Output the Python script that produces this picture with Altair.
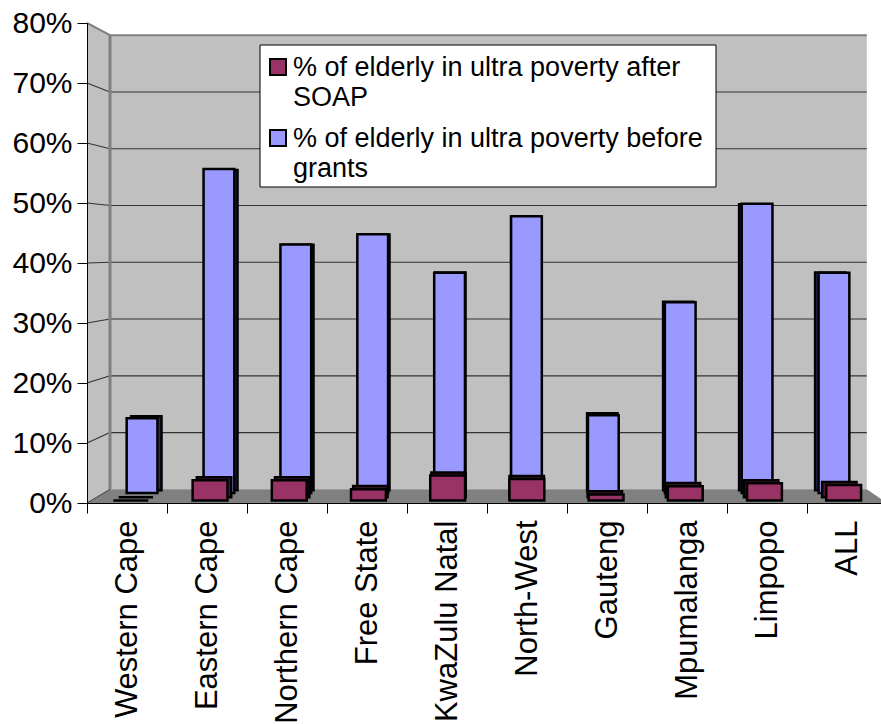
import json

import altair as alt
import pandas as pd

# ---- data -----------------------------------------------------------------
regions = ["Western Cape", "Eastern Cape", "Northern Cape", "Free State",
           "KwaZulu Natal", "North-West", "Gauteng", "Mpumalanga",
           "Limpopo", "ALL"]
before_grants = [0.130, 0.562, 0.431, 0.449, 0.382, 0.480, 0.135, 0.331, 0.502, 0.382]
after_soap = [0.000, 0.034, 0.034, 0.019, 0.042, 0.036, 0.010, 0.024, 0.029, 0.026]
series_names = ["% of elderly in ultra poverty after SOAP",
                "% of elderly in ultra poverty before grants"]
y_tick_values = [0.0, 0.1, 0.2, 0.3, 0.4, 0.5, 0.6, 0.7, 0.8]

# ---- style ----------------------------------------------------------------
FONT = "Liberation Sans"
RED, BLUE = "#993366", "#9999FF"
RED_SIDE, BLUE_SIDE = "#4d1a33", "#2b2b66"
WALL, FLOOR, EDGE = "#C0C0C0", "#808080", "#808080"

# ---- 3-D perspective (data units: x = category slots, y = share) ----------
VX, VY = 5.325, 0.4228          # vanishing point
WALL_S = 0.946                  # depth scale of the back wall
BLUE_S = (0.961, 0.950)         # front / back face of the rear series
RED_S = (0.990, 0.977)          # front / back face of the front series
BLUE_HW, RED_HW = 0.20, 0.22    # half bar widths


def px(x, s):
    return VX + (x - VX) * s


def py(v, s):
    return VY + (v - VY) * s


X_SCALE = alt.Scale(domain=[0, 10], range=[0, 800], nice=False, zero=False)
Y_SCALE = alt.Scale(domain=[0, 0.8], nice=False, zero=False)

bars = pd.DataFrame({"idx": list(range(len(regions))), "region": regions,
                     "before": before_grants, "after": after_soap})

label_expr = (f"datum.value < {len(regions)} ? "
              f"{json.dumps(regions)}[datum.value] : ''")

x_axis = alt.Axis(orient="bottom", values=list(range(len(regions) + 1)),
                  labelExpr=label_expr, title=None, grid=False,
                  labelAngle=270, labelAlign="right", labelBaseline="middle",
                  labelOffset=40, labelPadding=7, labelFlush=False,
                  labelOverlap=False, labelLimit=0, labelFont=FONT,
                  labelFontSize=31, labelColor="black", tickSize=10,
                  tickColor="black", domainColor="black", zindex=1)
y_axis = alt.Axis(orient="left", values=y_tick_values, format=".0%",
                  title=None, grid=False, labelFont=FONT, labelFontSize=30,
                  labelColor="black", labelPadding=5, tickSize=10,
                  tickColor="black", domainColor="black", zindex=1)


def enc_xy(x, y, x2=None, y2=None):
    e = dict(x=alt.X(x, scale=X_SCALE, axis=x_axis),
             y=alt.Y(y, scale=Y_SCALE, axis=y_axis))
    if x2:
        e["x2"] = x2
    if y2:
        e["y2"] = y2
    return e


# ---- walls and floor -------------------------------------------------------
xb0, xb1 = px(0, WALL_S), px(10, WALL_S)
yb0, yb8 = py(0, WALL_S), py(0.8, WALL_S)

side_wall = alt.Chart(pd.DataFrame({"x": [0, xb0], "lo": [0, yb0], "hi": [0.8, yb8]})) \
    .mark_area(orient="vertical", color=WALL) \
    .encode(**enc_xy("x:Q", "lo:Q", y2="hi:Q"))

back_wall = alt.Chart(pd.DataFrame({"x": [xb0], "x2": [xb1], "y": [yb0], "y2": [yb8]})) \
    .mark_rect(color=WALL) \
    .encode(**enc_xy("x:Q", "y:Q", "x2:Q", "y2:Q"))

floor = alt.Chart(pd.DataFrame({"y": [0, yb0], "x": [0, xb0], "x2": [10, xb1]})) \
    .mark_area(orient="horizontal", color=FLOOR) \
    .encode(**enc_xy("x:Q", "y:Q", x2="x2:Q"))

grid_vals = y_tick_values[1:-1]
back_grid = alt.Chart(pd.DataFrame({"x": xb0, "x2": xb1, "y": [py(v, WALL_S) for v in grid_vals]})) \
    .mark_rule(color="#333333", strokeWidth=1.2) \
    .encode(**enc_xy("x:Q", "y:Q", "x2:Q", "y:Q"))
side_grid = alt.Chart(pd.DataFrame({"x": 0.0, "x2": xb0, "y": grid_vals,
                                    "y2": [py(v, WALL_S) for v in grid_vals]})) \
    .mark_rule(color="#333333", strokeWidth=1.2) \
    .encode(**enc_xy("x:Q", "y:Q", "x2:Q", "y2:Q"))

edges = alt.Chart(pd.DataFrame({
    "x": [xb0, xb0, 0.0], "x2": [xb0, xb1, xb0],
    "y": [yb0, yb8, 0.8], "y2": [yb8, yb8, yb8],
    "w": [3.0, 2.0, 2.0]})) \
    .mark_rule(color=EDGE) \
    .encode(strokeWidth=alt.StrokeWidth("w:Q", scale=None),
            **enc_xy("x:Q", "y:Q", "x2:Q", "y2:Q"))

floor_edge = alt.Chart(pd.DataFrame({"x": [0.0], "x2": [xb0], "y": [0.0], "y2": [yb0]})) \
    .mark_rule(color="#404040", strokeWidth=1) \
    .encode(**enc_xy("x:Q", "y:Q", "x2:Q", "y2:Q"))


# ---- bars drawn as a back face and a front face ---------------------------
def face(field, s, hw, fill):
    return alt.Chart(bars).transform_calculate(
        fx0=f"{VX} + (datum.idx + 0.5 - {hw} - {VX}) * {s}",
        fx1=f"{VX} + (datum.idx + 0.5 + {hw} - {VX}) * {s}",
        fy0=f"{VY} + (0 - {VY}) * {s}",
        fy1=f"{VY} + (datum['{field}'] - {VY}) * {s}",
    ).mark_rect(fill=fill, stroke="black", strokeWidth=2.5, strokeJoin="miter").encode(
        **enc_xy("fx0:Q", "fy0:Q", "fx1:Q", "fy1:Q"))


blue_back = face("before", BLUE_S[1], BLUE_HW, BLUE_SIDE)
blue_front = face("before", BLUE_S[0], BLUE_HW, BLUE)
red_back = face("after", RED_S[1], RED_HW, RED_SIDE)
red_front = face("after", RED_S[0], RED_HW, RED)

# ---- legend ---------------------------------------------------------------
one = pd.DataFrame({"k": [0]})
legend_box = alt.Chart(one).mark_rect(fill="white", stroke="black", strokeWidth=1).encode(
    x=alt.value(173), x2=alt.value(629), y=alt.value(22), y2=alt.value(164))

legend_layers = []
for i, (name, col) in enumerate(zip(series_names, [RED, BLUE])):
    top = 44 + 71 * i
    head, tail = name.rsplit(" ", 1)
    legend_layers.append(
        alt.Chart(one).mark_rect(fill=col, stroke="black", strokeWidth=2).encode(
            x=alt.value(183), x2=alt.value(199), y=alt.value(top - 8), y2=alt.value(top + 8)))
    legend_layers.append(
        alt.Chart(pd.DataFrame({"t": [head + "\n" + tail]})).mark_text(
            align="left", baseline="alphabetic", font=FONT, fontSize=27,
            lineBreak="\n", lineHeight=30, color="black").encode(
            x=alt.value(206), y=alt.value(top + 9), text="t:N"))

chart = alt.layer(
    side_wall, back_wall, floor, back_grid, side_grid, edges, floor_edge,
    blue_back, blue_front, red_back, red_front,
    legend_box, *legend_layers,
).properties(
    width=794, height=480,
    padding={"left": 87, "top": 23, "right": 0, "bottom": 221},
    autosize=alt.AutoSizeParams(type="none"),
).configure(background="white").configure_view(stroke=None)

chart.save("out.html", embed_options={"renderer": "svg", "actions": False})
